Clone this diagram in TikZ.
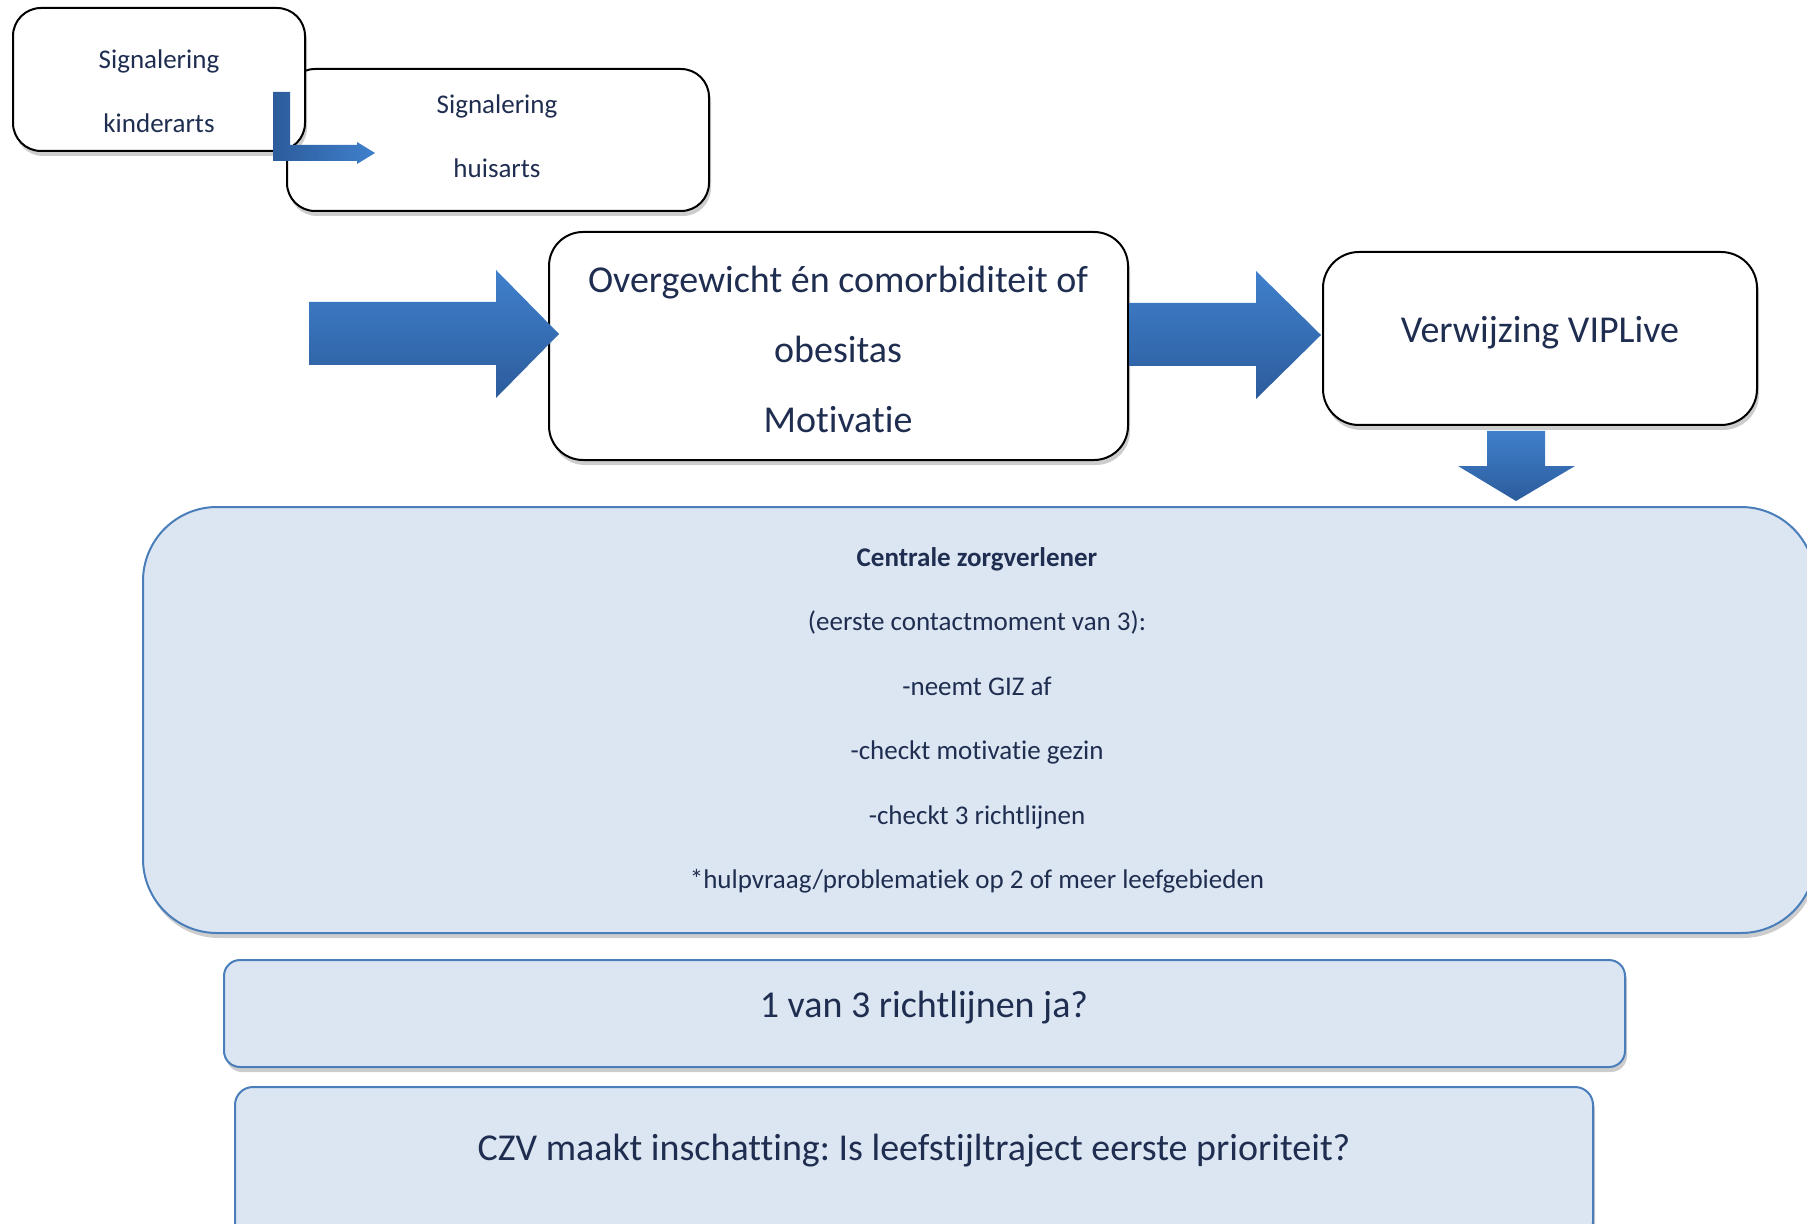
\documentclass[tikz,border=0pt]{standalone}
\usepackage{fontspec}
\setmainfont{Carlito}[RawFeature={-liga;-clig;-dlig;-calt;-ccmp;-rlig;-hlig}]
\usetikzlibrary{shadows}
\frenchspacing
\definecolor{txt}{RGB}{31,46,80}
\definecolor{bfill}{RGB}{220,230,242}
\definecolor{bline}{RGB}{74,126,187}
\definecolor{atop}{RGB}{64,128,204}
\definecolor{abot}{RGB}{44,92,156}
\tikzset{
  shad/.style={drop shadow={shadow xshift=1pt, shadow yshift=-2.5pt, opacity=0.28, fill=black!70}},
  whitebox/.style={draw=black, line width=1pt, fill=white, shad, inner sep=0pt},
  bluebox/.style={draw=bline, line width=1pt, fill=bfill, shad, inner sep=0pt},
  smalltxt/.style={text=txt, align=center, inner sep=0pt, font=\fontsize{13.5}{32}\selectfont},
  bigtxt/.style={text=txt, align=center, inner sep=0pt, font=\fontsize{19}{35}\selectfont},
  blockarrow/.style={top color=atop, bottom color=abot, draw=none}
}
\begin{document}
\begin{tikzpicture}[x=0.5pt,y=-0.5pt]
\useasboundingbox (0,0) rectangle (1807,1224);
\clip (0,0) rectangle (1807,1224);
% top signalering boxes
\node[whitebox, rounded corners=14pt, minimum width=211pt, minimum height=71pt] (huis) at (498,140) {};
\node[whitebox, rounded corners=14pt, minimum width=146pt, minimum height=71.5pt] (kind) at (159,79.5) {};
\node[smalltxt] (kindT) at (159,91) {Signalering\\kinderarts};
\node[smalltxt] (huisT) at (497,136) {Signalering\\huisarts};
% bent arrow
\draw[draw=none, left color=abot, right color=atop] (273,92) -- (290,92) -- (290,145) -- (357,145) -- (357,142) -- (375,153) -- (357,164) -- (357,161) -- (273,161) -- cycle;
% middle row
\node[whitebox, rounded corners=17pt, minimum width=289.5pt, minimum height=114pt] (mid) at (838.5,346) {};
\node[bigtxt] (midT) at (838,349) {Overgewicht én comorbiditeit of\\obesitas\\Motivatie};
\node[whitebox, rounded corners=18pt, minimum width=217pt, minimum height=86.5pt] (verw) at (1540,338.5) {};
\node[bigtxt] (verwT) at (1540,332.5) {Verwijzing VIPLive};
\draw[blockarrow] (309,302) -- (496,302) -- (496,270) -- (559,334) -- (496,398) -- (496,365) -- (309,365) -- cycle;
\draw[blockarrow] (1129,303) -- (1256,303) -- (1256,271) -- (1321,335) -- (1256,399) -- (1256,366) -- (1129,366) -- cycle;
% central box
\node[bluebox, rounded corners=37pt, minimum width=836pt, minimum height=213pt] (czb) at (979,720) {};
\draw[blockarrow] (1487,431) -- (1545,431) -- (1545,466) -- (1575,466) -- (1516,501) -- (1458,466) -- (1487,466) -- cycle;
\node[smalltxt, font=\fontsize{13.5}{32.25}\selectfont] (czT) at (977,720.5) {\textbf{Centrale zorgverlener}\\(eerste contactmoment van 3):\\-neemt GIZ af\\-checkt motivatie gezin\\-checkt 3 richtlijnen\\*hulpvraag/problematiek op 2 of meer leefgebieden};
% bottom boxes
\node[bluebox, rounded corners=8pt, minimum width=700.5pt, minimum height=53.5pt] (rl) at (924.5,1013.5) {};
\node[bigtxt] (rlT) at (924,1007.5) {1 van 3 richtlijnen ja?};
\node[bluebox, rounded corners=9pt, minimum width=679pt, minimum height=76.5pt] (czv) at (914,1163.5) {};
\node[bigtxt] (czvT) at (914,1150.5) {CZV maakt inschatting: Is leefstijltraject eerste prioriteit?};
\end{tikzpicture}
\end{document}
